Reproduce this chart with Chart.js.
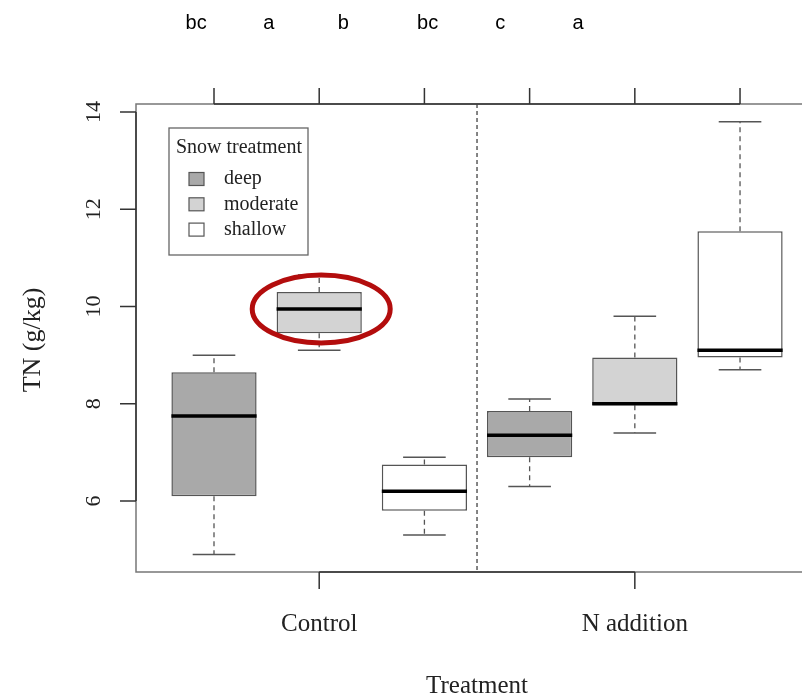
<!DOCTYPE html>
<html>
<head>
<meta charset="utf-8">
<script src="https://cdn.jsdelivr.net/npm/chart.js@4.4.0/dist/chart.umd.min.js"></script>
<style>
html, body { margin: 0; padding: 0; background: #fff; }
#wrap { width: 802px; height: 699px; }
</style>
</head>
<body>
<div id="wrap"><canvas id="chart" width="802" height="699"></canvas></div>
<script>
// TN (g/kg) por tratamento de neve, com e sem adição de N
var snowLevels = ['deep', 'moderate', 'shallow'];
var snowColors = ['#a9a9a9', '#d3d3d3', '#ffffff'];
var treatments = ['Control', 'N addition'];
var treatmentPositions = [2, 5];
var boxPositions = [1, 2, 3, 4, 5, 6];
var whiskerLow = [4.9, 9.1, 5.3, 6.3, 7.4, 8.7];
var boxLow = [6.1, 9.45, 5.8, 6.9, 7.97, 8.95];
var medians = [7.75, 9.95, 6.2, 7.35, 8.0, 9.1];
var boxHigh = [8.65, 10.3, 6.75, 7.85, 8.95, 11.55];
var whiskerHigh = [9.0, 10.65, 6.9, 8.1, 9.8, 13.8];
var yTicks = [6, 8, 10, 12, 14];
// letras de significância (Tukey) no topo
var letters = ['bc', 'a', 'b', 'bc', 'c', 'a'];
var letterPositions = [0.83, 1.52, 2.23, 3.03, 3.72, 4.46];
var highlightBox = 1; // caixa destacada com elipse

var serif = '"Liberation Serif", "DejaVu Serif", serif';

// Desenha bigodes, medianas, eixos estilo R, legenda e anotações
var boxplotPlugin = {
    id: 'boxplotExtras',
    beforeDatasetsDraw: function (chart) {
        var ctx = chart.ctx;
        var x = chart.scales.x, y = chart.scales.y;
        var bars = chart.getDatasetMeta(0).data;
        ctx.save();
        for (var i = 0; i < boxPositions.length; i++) {
            var px = x.getPixelForValue(boxPositions[i]);
            var half = bars[i].width / 4;
            ctx.strokeStyle = '#555';
            ctx.lineWidth = 1.3;
            ctx.setLineDash([5, 4]);
            ctx.beginPath();
            ctx.moveTo(px, y.getPixelForValue(boxHigh[i]));
            ctx.lineTo(px, y.getPixelForValue(whiskerHigh[i]));
            ctx.moveTo(px, y.getPixelForValue(boxLow[i]));
            ctx.lineTo(px, y.getPixelForValue(whiskerLow[i]));
            ctx.stroke();
            ctx.setLineDash([]);
            ctx.lineWidth = 1.5;
            ctx.beginPath();
            ctx.moveTo(px - half, y.getPixelForValue(whiskerHigh[i]));
            ctx.lineTo(px + half, y.getPixelForValue(whiskerHigh[i]));
            ctx.moveTo(px - half, y.getPixelForValue(whiskerLow[i]));
            ctx.lineTo(px + half, y.getPixelForValue(whiskerLow[i]));
            ctx.stroke();
        }
        ctx.restore();
    },
    afterDatasetsDraw: function (chart) {
        var ctx = chart.ctx;
        var area = chart.chartArea;
        var x = chart.scales.x, y = chart.scales.y;
        var bars = chart.getDatasetMeta(0).data;
        ctx.save();

        // medianas
        ctx.strokeStyle = '#000';
        ctx.lineWidth = 3.5;
        for (var i = 0; i < boxPositions.length; i++) {
            var px = x.getPixelForValue(boxPositions[i]);
            var w = bars[i].width / 2;
            var py = y.getPixelForValue(medians[i]);
            ctx.beginPath();
            ctx.moveTo(px - w, py);
            ctx.lineTo(px + w, py);
            ctx.stroke();
        }

        // linha tracejada separando os tratamentos
        var mid = x.getPixelForValue((treatmentPositions[0] + treatmentPositions[1]) / 2);
        ctx.strokeStyle = '#333';
        ctx.lineWidth = 1.2;
        ctx.setLineDash([4, 3]);
        ctx.beginPath();
        ctx.moveTo(mid, area.top);
        ctx.lineTo(mid, area.bottom);
        ctx.stroke();
        ctx.setLineDash([]);

        // moldura
        ctx.strokeStyle = '#777';
        ctx.lineWidth = 1.5;
        ctx.beginPath();
        ctx.moveTo(area.right + 20, area.top);
        ctx.lineTo(area.left, area.top);
        ctx.lineTo(area.left, area.bottom);
        ctx.lineTo(area.right + 20, area.bottom);
        ctx.stroke();

        // eixos
        ctx.strokeStyle = '#333';
        ctx.lineWidth = 1.5;
        ctx.beginPath();
        var y0 = y.getPixelForValue(yTicks[0]);
        var y1 = y.getPixelForValue(yTicks[yTicks.length - 1]);
        ctx.moveTo(area.left, y0);
        ctx.lineTo(area.left, y1);
        yTicks.forEach(function (t) {
            var py = y.getPixelForValue(t);
            ctx.moveTo(area.left, py);
            ctx.lineTo(area.left - 16, py);
        });
        ctx.moveTo(x.getPixelForValue(boxPositions[0]), area.top);
        ctx.lineTo(x.getPixelForValue(boxPositions[boxPositions.length - 1]), area.top);
        boxPositions.forEach(function (p) {
            var px = x.getPixelForValue(p);
            ctx.moveTo(px, area.top);
            ctx.lineTo(px, area.top - 16);
        });
        ctx.moveTo(x.getPixelForValue(treatmentPositions[0]), area.bottom);
        ctx.lineTo(x.getPixelForValue(treatmentPositions[1]), area.bottom);
        treatmentPositions.forEach(function (p) {
            var px = x.getPixelForValue(p);
            ctx.moveTo(px, area.bottom);
            ctx.lineTo(px, area.bottom + 17);
        });
        ctx.stroke();

        // rótulos do eixo y (rotacionados)
        ctx.fillStyle = '#222';
        ctx.textAlign = 'center';
        ctx.textBaseline = 'middle';
        ctx.font = '22px ' + serif;
        yTicks.forEach(function (t) {
            ctx.save();
            ctx.translate(area.left - 42, y.getPixelForValue(t));
            ctx.rotate(-Math.PI / 2);
            ctx.fillText(String(t), 0, 0);
            ctx.restore();
        });
        ctx.save();
        ctx.font = '26px ' + serif;
        ctx.translate(33, 340);
        ctx.rotate(-Math.PI / 2);
        ctx.fillText('TN (g/kg)', 0, 0);
        ctx.restore();

        // rótulos do eixo x
        ctx.font = '25px ' + serif;
        treatments.forEach(function (t, i) {
            ctx.fillText(t, x.getPixelForValue(treatmentPositions[i]), area.bottom + 52);
        });
        ctx.fillText('Treatment', mid, area.bottom + 114);

        // legenda
        var lx = area.left + 33, ly = area.top + 24;
        ctx.fillStyle = '#fff';
        ctx.fillRect(lx, ly, 139, 127);
        ctx.strokeStyle = '#666';
        ctx.lineWidth = 1.3;
        ctx.strokeRect(lx, ly, 139, 127);
        ctx.fillStyle = '#222';
        ctx.font = '20px ' + serif;
        ctx.fillText('Snow treatment', lx + 70, ly + 20);
        ctx.textAlign = 'left';
        snowLevels.forEach(function (s, i) {
            var cy = ly + 51 + i * 25.3;
            ctx.fillStyle = snowColors[i];
            ctx.fillRect(lx + 20, cy - 6.5, 15, 13);
            ctx.strokeStyle = '#555';
            ctx.lineWidth = 1.2;
            ctx.strokeRect(lx + 20, cy - 6.5, 15, 13);
            ctx.fillStyle = '#222';
            ctx.fillText(s, lx + 55, cy);
        });

        // elipse de destaque
        ctx.strokeStyle = '#b30d0d';
        ctx.lineWidth = 5;
        ctx.beginPath();
        ctx.ellipse(x.getPixelForValue(boxPositions[highlightBox]) + 2,
            y.getPixelForValue(medians[highlightBox]), 69, 34, 0, 0, Math.PI * 2);
        ctx.stroke();

        // letras
        ctx.fillStyle = '#000';
        ctx.textAlign = 'center';
        ctx.font = '20px "Liberation Sans", Arial, sans-serif';
        letters.forEach(function (l, i) {
            ctx.fillText(l, x.getPixelForValue(letterPositions[i]), 23);
        });

        ctx.restore();
    }
};

var ctx = document.getElementById('chart').getContext('2d');
var myChart = new Chart(ctx, {
    type: 'bar',
    data: {
        datasets: [{
            data: boxPositions.map(function (p, i) {
                return { x: p, y: [boxLow[i], boxHigh[i]] };
            }),
            backgroundColor: boxPositions.map(function (p, i) { return snowColors[i % 3]; }),
            borderColor: '#555',
            borderWidth: 1.5,
            borderSkipped: false,
            barPercentage: 0.81,
            categoryPercentage: 1
        }]
    },
    plugins: [boxplotPlugin],
    options: {
        responsive: false,
        animation: false,
        layout: { padding: { left: 136, top: 104, right: 0, bottom: 127 } },
        plugins: { legend: { display: false }, tooltip: { enabled: false } },
        scales: {
            x: {
                type: 'linear',
                display: false,
                offset: false,
                min: 0.2586,
                max: 6.589,
                afterBuildTicks: function (scale) {
                    scale.ticks = boxPositions.map(function (v) { return { value: v }; });
                }
            },
            y: {
                type: 'linear',
                display: false,
                min: 4.54,
                max: 14.165,
                afterBuildTicks: function (scale) {
                    scale.ticks = yTicks.map(function (v) { return { value: v }; });
                }
            }
        }
    }
});
</script>
</body>
</html>
